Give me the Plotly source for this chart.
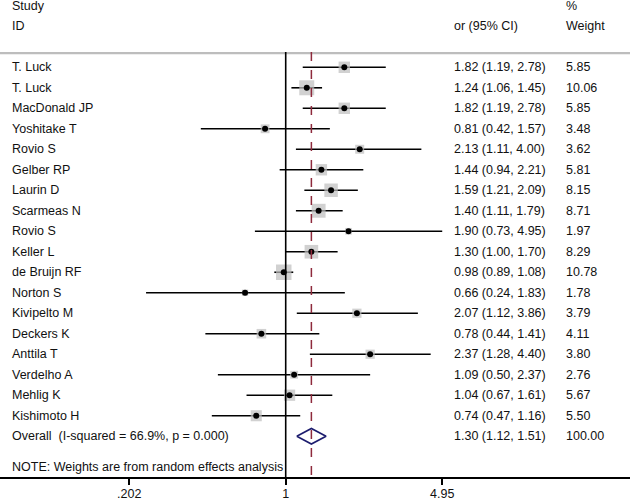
import plotly.graph_objects as go
import math

studies = ["T. Luck", "T. Luck", "MacDonald JP", "Yoshitake T", "Rovio S", "Gelber RP",
           "Laurin D", "Scarmeas N", "Rovio S", "Keller L", "de Bruijn RF", "Norton S",
           "Kivipelto M", "Deckers K", "Anttila T", "Verdelho A", "Mehlig K", "Kishimoto H"]
or_vals = [1.82, 1.24, 1.82, 0.81, 2.13, 1.44, 1.59, 1.40, 1.90, 1.30, 0.98, 0.66,
           2.07, 0.78, 2.37, 1.09, 1.04, 0.74]
ci_lo = [1.19, 1.06, 1.19, 0.42, 1.11, 0.94, 1.21, 1.11, 0.73, 1.00, 0.89, 0.24,
         1.12, 0.44, 1.28, 0.50, 0.67, 0.47]
ci_hi = [2.78, 1.45, 2.78, 1.57, 4.00, 2.21, 2.09, 1.79, 4.95, 1.70, 1.08, 1.83,
         3.86, 1.41, 4.40, 2.37, 1.61, 1.16]
weights = [5.85, 10.06, 5.85, 3.48, 3.62, 5.81, 8.15, 8.71, 1.97, 8.29, 10.78, 1.78,
           3.79, 4.11, 3.80, 2.76, 5.67, 5.50]
overall_label = "Overall\u00a0\u00a0(I-squared = 66.9%, p = 0.000)"
overall_or, overall_lo, overall_hi, overall_w = 1.30, 1.12, 1.51, 100.00
tick_vals = [0.202, 1, 4.95]
tick_text = [".202", "1", "4.95"]
note = "NOTE: Weights are from random effects analysis"

W, H = 630, 501
FONT = "Liberation Sans, Arial, sans-serif"
FS = 12.5
TXT = "#111111"

rows = list(range(1, len(studies) + 1))
ov_row = len(studies) + 1
note_row = ov_row + 1.5

y_top = 0.254
y_bot = 20.99
x_range = [-1.268, 1.528]

fig = go.Figure()

# header separator (full width, just inside top of plot area)
sep_y = y_top + 0.05
fig.add_trace(go.Scatter(x=[10 ** x_range[0], 10 ** x_range[1]], y=[sep_y, sep_y],
                         mode="lines", line=dict(color="#bdbdbd", width=2.5),
                         cliponaxis=False, hoverinfo="skip", showlegend=False))

# CI lines
lx, ly = [], []
for r, lo, hi in zip(rows, ci_lo, ci_hi):
    lx += [lo, hi, None]
    ly += [r, r, None]
fig.add_trace(go.Scatter(x=lx, y=ly, mode="lines", line=dict(color="black", width=1.6),
                         hoverinfo="skip", showlegend=False))

# weight boxes
wmax = max(weights)
sizes = [15.5 * math.sqrt(w / wmax) for w in weights]
fig.add_trace(go.Scatter(x=or_vals, y=rows, mode="markers",
                         marker=dict(symbol="square", size=sizes, color="#BDBDBD",
                                     line=dict(width=0)),
                         hoverinfo="skip", showlegend=False))
# point estimates
fig.add_trace(go.Scatter(x=or_vals, y=rows, mode="markers",
                         marker=dict(symbol="circle", size=6, color="black"),
                         hoverinfo="skip", showlegend=False))

# overall diamond
hh = 0.38
fig.add_trace(go.Scatter(x=[overall_lo, overall_or, overall_hi, overall_or, overall_lo],
                         y=[ov_row, ov_row - hh, ov_row, ov_row + hh, ov_row],
                         mode="lines", line=dict(color="#1c1c6e", width=1.6),
                         hoverinfo="skip", showlegend=False))

# reference lines
fig.add_shape(type="line", x0=1, x1=1, y0=y_top, y1=y_bot, xref="x", yref="y",
              line=dict(color="black", width=1.6))
fig.add_shape(type="line", x0=overall_or, x1=overall_or, y0=y_top, y1=y_bot, xref="x", yref="y",
              line=dict(color="#8e2a3c", width=1.5, dash="dash"))

def row_to_paper(r):
    return (y_bot - r) / (y_bot - y_top)

def txt(xpx, yrow, s):
    fig.add_annotation(x=xpx / W, y=row_to_paper(yrow), xref="paper", yref="paper", text=s,
                       showarrow=False, xanchor="left", yanchor="middle",
                       font=dict(family=FONT, size=FS, color=TXT))

x_name, x_ci, x_w = 10, 452, 564
txt(x_name, -2, "Study")
txt(x_name, -1, "ID")
txt(x_ci, -1, "or (95% CI)")
txt(x_w, -2, "%")
txt(x_w, -1, "Weight")

for r, s, o, lo, hi, w in zip(rows, studies, or_vals, ci_lo, ci_hi, weights):
    txt(x_name, r, s)
    txt(x_ci, r, f"{o:.2f} ({lo:.2f}, {hi:.2f})")
    txt(x_w, r, f"{w:.2f}")
txt(x_name, ov_row, overall_label)
txt(x_ci, ov_row, f"{overall_or:.2f} ({overall_lo:.2f}, {overall_hi:.2f})")
txt(x_w, ov_row, f"{overall_w:.2f}")
txt(x_name, note_row, note)

fig.update_layout(
    width=W, height=H,
    margin=dict(l=0, r=0, t=52, b=24),
    paper_bgcolor="white", plot_bgcolor="white",
    xaxis=dict(type="log", range=x_range, tickvals=tick_vals, ticktext=tick_text,
               showgrid=False, zeroline=False, showline=True, linecolor="black", linewidth=1.6,
               ticks="outside", ticklen=6, tickwidth=1.6, tickcolor="black",
               ticklabelstandoff=-2,
               tickfont=dict(family=FONT, size=FS, color=TXT), automargin=False),
    yaxis=dict(range=[y_bot, y_top], showgrid=False, zeroline=False, showticklabels=False,
               showline=False),
    showlegend=False,
)

fig.write_html("out.html", config={"displayModeBar": False},
               post_script="document.body.style.margin='0';document.body.style.overflow='hidden';")
